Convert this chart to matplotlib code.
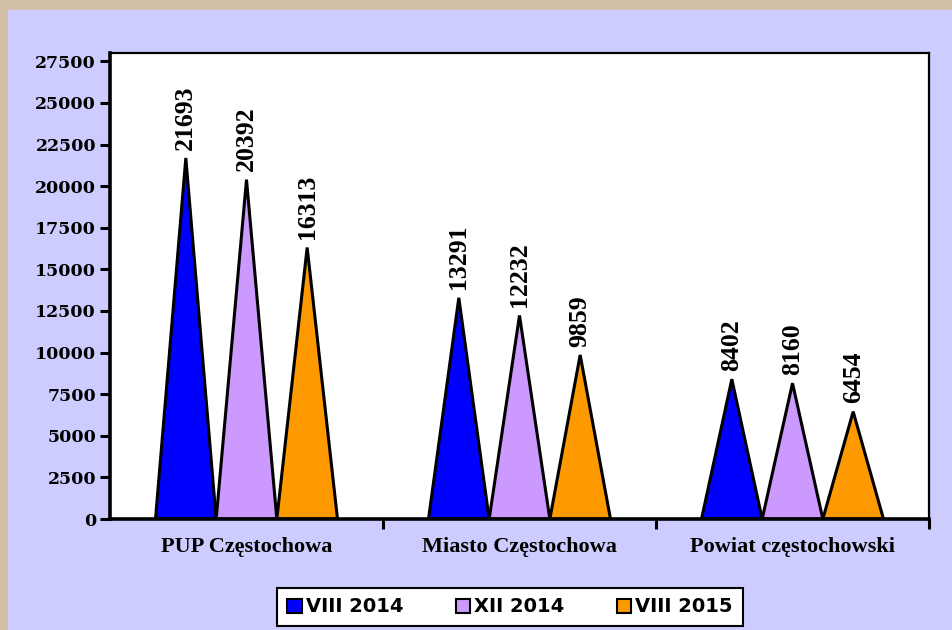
import matplotlib.pyplot as plt
import matplotlib.patches as mpatches
from matplotlib.patches import Polygon, Rectangle

# ## DATA ###################################################################
CATEGORIES = ["PUP Częstochowa", "Miasto Częstochowa", "Powiat częstochowski"]
SERIES = ["VIII 2014", "XII 2014", "VIII 2015"]
VIII_2014 = [21693, 13291, 8402]
XII_2014 = [20392, 12232, 8160]
VIII_2015 = [16313, 9859, 6454]
Y_TICKS = list(range(0, 27501, 2500))

# ## STYLE ##################################################################
COLORS = ["#0000FF", "#CC99FF", "#FF9900"]
BG = "#CCCCFF"
FRAME = "#D3BFA8"
BAR_W = 2 / 9

fig = plt.figure(figsize=(9.52, 6.30), dpi=100, facecolor=BG)

# tan frame on top and left
fig.patches.append(Rectangle((0, 1 - 10 / 630), 1, 10 / 630, transform=fig.transFigure,
                             facecolor=FRAME, edgecolor="none", zorder=0))
fig.patches.append(Rectangle((0, 0), 8 / 952, 1, transform=fig.transFigure,
                             facecolor=FRAME, edgecolor="none", zorder=0))

ax = fig.add_axes([110 / 952, 111 / 630, 819 / 952, 466 / 630])
ax.set_facecolor("white")

# triangles (pyramid bars) + rotated value labels
series_values = [VIII_2014, XII_2014, VIII_2015]
for s, (vals, col) in enumerate(zip(series_values, COLORS)):
    for i, v in enumerate(vals):
        xc = i + (s - 1) * BAR_W
        tri = Polygon([(xc - BAR_W / 2, 0), (xc, v), (xc + BAR_W / 2, 0)],
                      closed=True, facecolor=col, edgecolor="black",
                      linewidth=2.2, joinstyle="miter", zorder=2)
        ax.add_patch(tri)
        ax.annotate(str(v), (xc, v), xytext=(0, 6), textcoords="offset points",
                    rotation=90, ha="center", va="bottom",
                    fontfamily="Liberation Serif", fontweight="bold",
                    fontsize=18.5, zorder=3)

ax.set_xlim(-0.5, 2.5)
ax.set_ylim(0, 28000)

ax.set_yticks(Y_TICKS)
ax.set_yticklabels([str(t) for t in Y_TICKS], fontfamily="DejaVu Serif",
                   fontweight="bold", fontsize=12.5)
ax.tick_params(axis="y", direction="out", length=7, width=2.2, pad=3)

ax.set_xticks([0.5, 1.5, 2.5])
ax.set_xticklabels([])
ax.tick_params(axis="x", which="major", direction="out", length=7, width=2.2)
ax.set_xticks(range(len(CATEGORIES)), minor=True)
ax.set_xticklabels(CATEGORIES, minor=True, fontfamily="Liberation Serif",
                   fontweight="bold", fontsize=16)
ax.tick_params(axis="x", which="minor", length=0, pad=13)

ax.spines["left"].set_linewidth(2.6)
ax.spines["bottom"].set_linewidth(2.6)
ax.spines["top"].set_linewidth(1.6)
ax.spines["right"].set_linewidth(1.6)
for sp in ax.spines.values():
    sp.set_zorder(4)

handles = [mpatches.Rectangle((0, 0), 1, 1, facecolor=c, edgecolor="black", linewidth=1.5)
           for c in COLORS]
leg = fig.legend(handles, SERIES, loc="center", bbox_to_anchor=(510 / 952, 1 - 607 / 630),
                 ncol=3, frameon=True, fancybox=False, edgecolor="black",
                 facecolor="white", framealpha=1.0,
                 handlelength=0.75, handleheight=0.75, handletextpad=0.2,
                 columnspacing=2.7, borderpad=0.5,
                 prop={"family": "DejaVu Sans", "weight": "bold", "size": 14})
leg.get_frame().set_linewidth(1.5)

fig.savefig("out.png", dpi=100, facecolor=BG)
